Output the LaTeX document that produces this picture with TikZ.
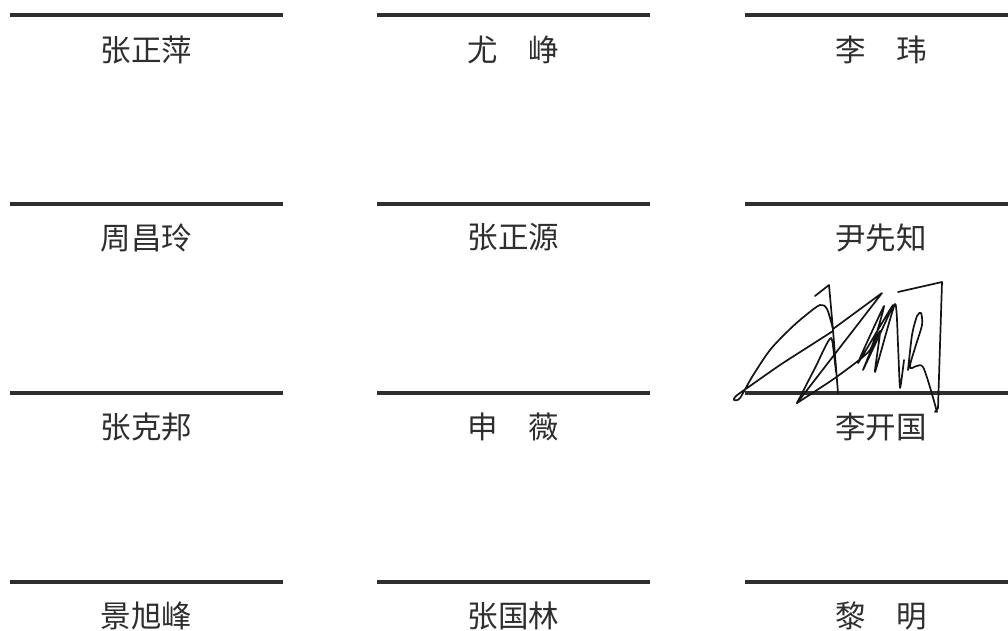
\documentclass[tikz,border=0pt]{standalone}
\usepackage{fontspec}
\newfontfamily\cjk{Noto Sans CJK SC}
\newlength{\du}
\setlength{\du}{1pt}
\definecolor{rulecolor}{rgb}{0.180000, 0.180000, 0.180000}
\definecolor{namecolor}{rgb}{0.180000, 0.180000, 0.180000}
\definecolor{inkcolor}{rgb}{0.080000, 0.080000, 0.080000}
\tikzset{
  signline/.style={draw=rulecolor, line width=3.200000\du},
  namelabel/.style={text=namecolor, inner sep=0pt, font=\cjk\fontsize{30.5}{30.5}\selectfont},
  inkstroke/.style={draw=inkcolor, line width=1.700000\du, line cap=round, line join=round}
}
\begin{document}
\begin{tikzpicture}
\pgftransformxscale{1.000000}
\pgftransformyscale{-1.000000}
\useasboundingbox (0.000000\du,0.000000\du) rectangle (1008.000000\du,630.000000\du);
% row 1
\draw[signline] (10.000000\du,15.000000\du)--(283.000000\du,15.000000\du);
\node[namelabel] (zhangzhengping) at (146.500000\du,50.000000\du){张正萍};
\draw[signline] (377.000000\du,15.000000\du)--(650.000000\du,15.000000\du);
\node[namelabel] (youzheng) at (513.500000\du,50.000000\du){尤　峥};
\draw[signline] (745.000000\du,15.000000\du)--(1008.000000\du,15.000000\du);
\node[namelabel] (liwei) at (881.000000\du,50.000000\du){李　玮};
% row 2
\draw[signline] (10.000000\du,204.000000\du)--(283.000000\du,204.000000\du);
\node[namelabel] (zhouchangling) at (146.500000\du,237.500000\du){周昌玲};
\draw[signline] (377.000000\du,204.000000\du)--(650.000000\du,204.000000\du);
\node[namelabel] (zhangzhengyuan) at (513.500000\du,237.500000\du){张正源};
\draw[signline] (745.000000\du,204.000000\du)--(1008.000000\du,204.000000\du);
\node[namelabel] (yinxianzhi) at (881.000000\du,237.500000\du){尹先知};
% row 3
\draw[signline] (10.000000\du,393.000000\du)--(283.000000\du,393.000000\du);
\node[namelabel] (zhangkebang) at (146.500000\du,426.500000\du){张克邦};
\draw[signline] (377.000000\du,393.000000\du)--(650.000000\du,393.000000\du);
\node[namelabel] (shenwei) at (513.500000\du,426.500000\du){申　薇};
\draw[signline] (745.000000\du,393.000000\du)--(1008.000000\du,393.000000\du);
\node[namelabel] (likaiguo) at (881.000000\du,426.500000\du){李开国};
% row 4
\draw[signline] (10.000000\du,582.000000\du)--(283.000000\du,582.000000\du);
\node[namelabel] (jingxufeng) at (146.500000\du,615.500000\du){景旭峰};
\draw[signline] (377.000000\du,582.000000\du)--(650.000000\du,582.000000\du);
\node[namelabel] (zhangguolin) at (513.500000\du,615.500000\du){张国林};
\draw[signline] (745.000000\du,582.000000\du)--(1008.000000\du,582.000000\du);
\node[namelabel] (liming) at (881.000000\du,615.500000\du){黎　明};
% signature over li kai guo
\draw[inkstroke] (815\du,296\du)--(829\du,285\du)--(833\du,330\du)--(838\du,393\du);
\draw[inkstroke] plot[smooth, tension=0.5] coordinates {(833\du,331\du) (808\du,347\du) (780\du,365\du) (750\du,386\du) (736\du,396\du) (734\du,400\du) (740\du,398\du) (752\du,377\du) (770\du,350\du) (790\du,329\du) (806\du,315\du) (820\du,305\du) (827\du,309\du) (833\du,329\du)};
\draw[inkstroke] (833\du,329\du)--(882\du,293\du)--(797\du,403\du);
\draw[inkstroke] plot[smooth, tension=0.4] coordinates {(797\du,403\du) (815\du,368\du) (831\du,338\du) (836\du,372\du) (833\du,346\du)};
\draw[inkstroke] plot[smooth, tension=0.3] coordinates {(797\du,403\du) (835\du,378\du) (870\du,350\du) (884\du,306\du) (858\du,363\du) (893\du,305\du) (863\du,370\du) (880\du,331\du) (875\du,372\du) (895\du,304\du) (898\du,345\du) (900\du,388\du) (904\du,360\du)};
\draw[inkstroke] plot[smooth, tension=0.45] coordinates {(908\du,370\du) (912\du,335\du) (917\du,316\du) (921\du,313\du) (922\du,325\du) (915\du,348\du) (910\du,368\du) (923\du,367\du) (937\du,412\du)};
\draw[inkstroke] (898\du,292\du)--(942\du,282\du)--(938\du,408\du)--(935\du,412\du);
\end{tikzpicture}
\end{document}
